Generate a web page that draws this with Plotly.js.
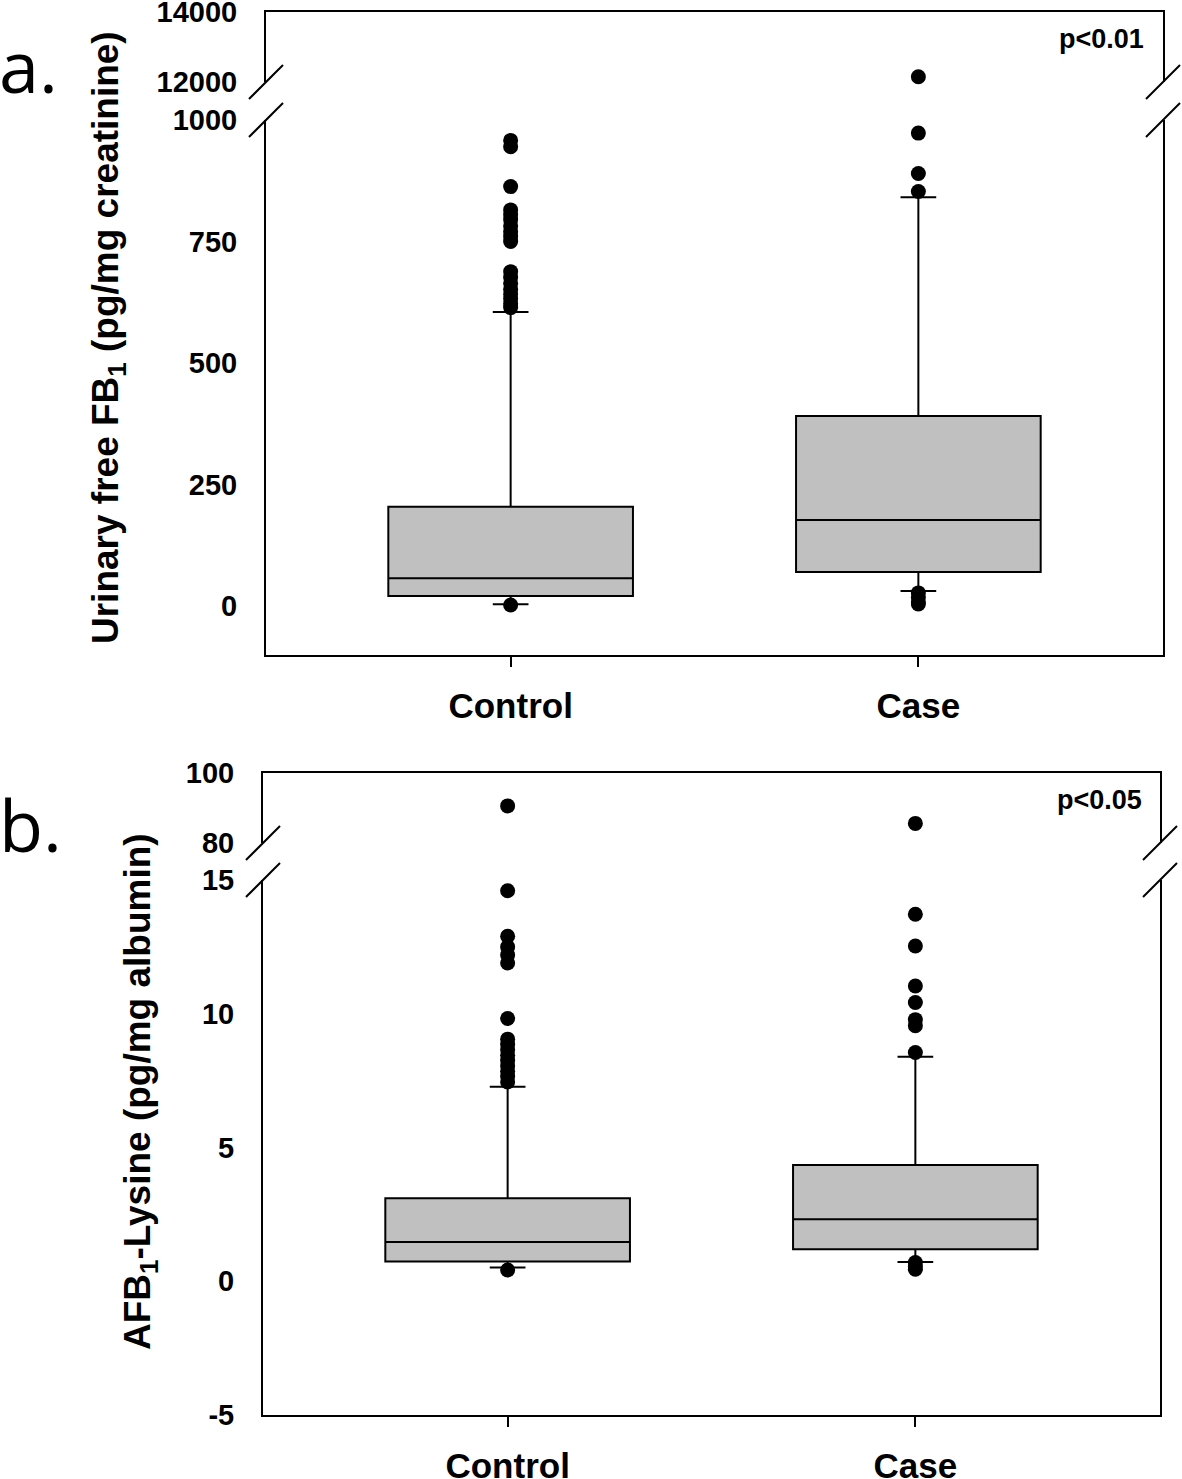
<!DOCTYPE html>
<html>
<head>
<meta charset="utf-8">
<script src="https://cdn.plot.ly/plotly-3.0.1.min.js"></script>
<style>html,body{margin:0;padding:0;background:#fff;}#chart{width:1182px;height:1479px;}</style>
</head>
<body>
<div id="chart"></div>
<script>
// ---------- data ----------
const categories = ['Control', 'Case'];

// Panel a: urinary free FB1 (pg/mg creatinine)
const fb1Q1 = [20.6, 70];
const fb1Median = [57, 177];
const fb1Q3 = [204, 391];
const fb1LowerFence = [3.5, 31];
const fb1UpperFence = [605, 841];
const fb1OutliersControl = [958, 945, 863, 815, 805, 795, 782, 770, 760, 750, 688, 676, 664, 652, 642, 632, 622, 614, 2];
const fb1OutliersCase = [12150, 973, 890, 853, 27, 18, 8, 4];
const fb1LowTicks = [0, 250, 500, 750, 1000];
const fb1LowTickText = ['0', '250', '500', '750', '1000'];
const fb1HighTicks = [12000, 14000];
const fb1HighTickText = ['12000', '14000'];

// Panel b: AFB1-lysine (pg/mg albumin)
const afbQ1 = [0.74, 1.2];
const afbMedian = [1.47, 2.32];
const afbQ3 = [3.1, 4.35];
const afbLowerFence = [0.51, 0.72];
const afbUpperFence = [7.27, 8.39];
const afbOutliersControl = [90.6, 14.6, 12.9, 12.5, 12.2, 11.9, 9.82, 9.05, 8.85, 8.65, 8.45, 8.25, 8.05, 7.85, 7.65, 7.45, 0.42];
const afbOutliersCase = [85.6, 13.72, 12.53, 11.04, 10.42, 9.78, 9.55, 8.55, 0.7, 0.55, 0.45];
const afbLowTicks = [-5, 0, 5, 10, 15];
const afbLowTickText = ['-5', '0', '5', '10', '15'];
const afbHighTicks = [80, 100];
const afbHighTickText = ['80', '100'];

// ---------- helpers ----------
const W = 1182, H = 1479;
const fx = px => px / W;
const fy = px => 1 - px / H;
const FONT = 'Liberation Sans, Arial, Helvetica, sans-serif';

function boxTrace(q1, med, q3, lo, hi, xa, ya) {
  return {
    type: 'box', x: categories, q1: q1, median: med, q3: q3,
    lowerfence: lo, upperfence: hi, boxpoints: false,
    width: 0.6, whiskerwidth: 0.146,
    fillcolor: '#c0c0c0', line: {color: '#000', width: 2},
    xaxis: xa, yaxis: ya, hoverinfo: 'skip', showlegend: false
  };
}
function pointTrace(cat, vals, xa, ya) {
  return {
    type: 'scatter', mode: 'markers',
    x: vals.map(() => cat), y: vals,
    marker: {color: '#000', size: 15},
    xaxis: xa, yaxis: ya, hoverinfo: 'skip', showlegend: false, cliponaxis: false
  };
}

const traces = [
  boxTrace(fb1Q1, fb1Median, fb1Q3, fb1LowerFence, fb1UpperFence, 'x', 'y'),
  pointTrace('Control', fb1OutliersControl.filter(v => v <= 1000), 'x', 'y'),
  pointTrace('Case', fb1OutliersCase.filter(v => v <= 1000), 'x', 'y'),
  pointTrace('Control', fb1OutliersControl.filter(v => v > 1000), 'x2', 'y2'),
  pointTrace('Case', fb1OutliersCase.filter(v => v > 1000), 'x2', 'y2'),
  boxTrace(afbQ1, afbMedian, afbQ3, afbLowerFence, afbUpperFence, 'x3', 'y3'),
  pointTrace('Control', afbOutliersControl.filter(v => v <= 15), 'x3', 'y3'),
  pointTrace('Case', afbOutliersCase.filter(v => v <= 15), 'x3', 'y3'),
  pointTrace('Control', afbOutliersControl.filter(v => v > 15), 'x4', 'y4'),
  pointTrace('Case', afbOutliersCase.filter(v => v > 15), 'x4', 'y4')
];

const tickFont = {family: FONT, size: 29, color: '#000', weight: 'bold'};
const catFont = {family: FONT, size: 35, color: '#000', weight: 'bold'};

function xBottom(dom, anchor) {
  return {
    domain: dom, anchor: anchor, type: 'category', categoryarray: categories,
    range: [-0.6, 1.6], showline: true, linewidth: 2, linecolor: '#000',
    ticks: 'outside', ticklen: 10, tickwidth: 2, tickcolor: '#000',
    tickfont: catFont, ticklabelstandoff: 9,
    showgrid: false, zeroline: false, fixedrange: true
  };
}
function xTop(dom, anchor) {
  return {
    domain: dom, anchor: anchor, type: 'category', categoryarray: categories,
    range: [-0.6, 1.6], side: 'top', showline: true, linewidth: 2, linecolor: '#000',
    ticks: '', showticklabels: false, showgrid: false, zeroline: false, fixedrange: true
  };
}
// labelled axis (no tick marks; tick marks come from an overlay axis)
function yAxis(dom, anchor, range, tv, tt) {
  return {
    domain: dom, anchor: anchor, range: range, tickvals: tv, ticktext: tt,
    showline: true, mirror: true, linewidth: 2, linecolor: '#000',
    ticks: '', tickfont: tickFont, ticklabelstandoff: 21, ticklabeloverflow: 'allow',
    showgrid: false, zeroline: false, fixedrange: true
  };
}
// tick-mark-only overlay axis (skips the value at the axis break)
function yTicks(over, anchor, range, tv) {
  return {
    overlaying: over, anchor: anchor, range: range, tickvals: tv,
    showline: false, showticklabels: false,
    ticks: 'outside', ticklen: 9, tickwidth: 2, tickcolor: '#000',
    showgrid: false, zeroline: false, fixedrange: true
  };
}

// break marks
function slash(xpx, ypx) {
  return {type: 'line', xref: 'paper', yref: 'paper',
    x0: fx(xpx - 17), y0: fy(ypx + 17), x1: fx(xpx + 17), y1: fy(ypx - 17),
    line: {color: '#000', width: 2}};
}

const layout = {
  width: W, height: H,
  margin: {l: 0, r: 0, t: 0, b: 0, autoexpand: false},
  paper_bgcolor: '#fff', plot_bgcolor: 'rgba(0,0,0,0)',
  showlegend: false,
  xaxis: xBottom([fx(266), fx(1163)], 'y'),
  xaxis2: xTop([fx(266), fx(1163)], 'y2'),
  yaxis: yAxis([fy(654.6), fy(120)], 'x', [-100, 1000], fb1LowTicks, fb1LowTickText),
  yaxis2: yAxis([fy(82), fy(12)], 'x2', [12000, 14000], fb1HighTicks, fb1HighTickText),
  xaxis3: xBottom([fx(263), fx(1160)], 'y3'),
  xaxis4: xTop([fx(263), fx(1160)], 'y4'),
  yaxis3: yAxis([fy(1415), fy(880)], 'x3', [-5, 15], afbLowTicks, afbLowTickText),
  yaxis4: yAxis([fy(843), fy(773)], 'x4', [80, 100], afbHighTicks, afbHighTickText),
  yaxis5: yTicks('y', 'x', [-100, 1000], fb1LowTicks.slice(0, -1)),
  yaxis6: yTicks('y2', 'x2', [12000, 14000], fb1HighTicks.slice(1)),
  yaxis7: yTicks('y3', 'x3', [-5, 15], afbLowTicks.slice(0, -1)),
  yaxis8: yTicks('y4', 'x4', [80, 100], afbHighTicks.slice(1)),
  shapes: [
    slash(266, 82), slash(266, 120), slash(1163, 82), slash(1163, 120),
    slash(263, 843), slash(263, 880), slash(1160, 843), slash(1160, 880)
  ],
  annotations: [
    {xref: 'paper', yref: 'paper', x: fx(108), y: fy(338), xanchor: 'center', yanchor: 'middle',
     text: 'Urinary free FB<sub>1</sub> (pg/mg creatinine)', textangle: -90, showarrow: false,
     font: {family: FONT, size: 37, color: '#000', weight: 'bold'}},
    {xref: 'paper', yref: 'paper', x: fx(140), y: fy(1092), xanchor: 'center', yanchor: 'middle',
     text: 'AFB<sub>1</sub>-Lysine (pg/mg albumin)', textangle: -90, showarrow: false,
     font: {family: FONT, size: 37, color: '#000', weight: 'bold'}},
    {xref: 'paper', yref: 'paper', x: fx(-3), y: fy(65), xanchor: 'left', yanchor: 'middle',
     text: 'a.', showarrow: false, font: {family: 'Open Sans, DejaVu Sans, sans-serif', size: 72, color: '#000'}},
    {xref: 'paper', yref: 'paper', x: fx(-3), y: fy(824), xanchor: 'left', yanchor: 'middle',
     text: 'b.', showarrow: false, font: {family: 'Open Sans, DejaVu Sans, sans-serif', size: 72, color: '#000'}},
    {xref: 'paper', yref: 'paper', x: fx(1146), y: fy(39), xanchor: 'right', yanchor: 'middle',
     text: 'p&lt;0.01', showarrow: false, font: {family: FONT, size: 27, color: '#000', weight: 'bold'}},
    {xref: 'paper', yref: 'paper', x: fx(1144), y: fy(800), xanchor: 'right', yanchor: 'middle',
     text: 'p&lt;0.05', showarrow: false, font: {family: FONT, size: 27, color: '#000', weight: 'bold'}}
  ]
};

Plotly.newPlot('chart', traces, layout, {staticPlot: true, displayModeBar: false});
</script>
</body>
</html>
